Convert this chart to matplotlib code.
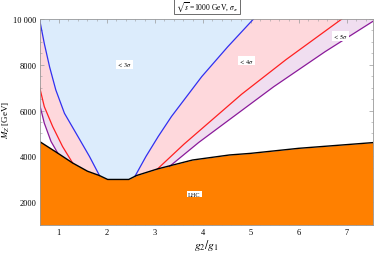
import matplotlib
matplotlib.use("Agg")
import matplotlib.pyplot as plt
from matplotlib.ticker import MultipleLocator, FixedLocator

plt.rcParams['font.family'] = ['Liberation Serif', 'DejaVu Serif']
plt.rcParams['mathtext.fontset'] = 'stix'

# LHC exclusion boundary
lhc_x = [0.6, 0.98, 1.29, 1.6, 1.85, 2.02, 2.46, 2.62, 3.06, 3.79, 4.56, 5.0, 6.0, 7.55]
lhc_y = [4650, 4140, 3710, 3350, 3160, 2990, 2990, 3160, 3450, 3840, 4060, 4130, 4350, 4600]

# 3 sigma contour
s3_left_x = [0.6, 0.70, 0.81, 0.94, 1.12, 1.40, 1.64, 1.85]
s3_left_y = [10000, 8930, 7910, 6900, 5880, 4870, 4000, 3160]
s3_right_x = [2.59, 2.82, 3.075, 3.35, 3.98, 4.52, 5.06]
s3_right_y = [3130, 4000, 4870, 5740, 7480, 8780, 10000]

# 4 sigma contour
s4_left_x = [0.6, 0.70, 0.875, 1.08, 1.29]
s4_left_y = [7040, 6170, 5300, 4430, 3710]
s4_right_x = [3.06, 3.61, 4.81, 5.74, 6.90]
s4_right_y = [3450, 4530, 6710, 8230, 10000]

# 5 sigma contour
s5_left_x = [0.6, 0.70, 0.84, 0.98]
s5_left_y = [6290, 5450, 4650, 4140]
s5_right_x = [3.31, 3.92, 5.48, 6.55, 7.55]
s5_right_y = [3560, 4610, 7040, 8570, 9900]

xmin, xmax, ymin, ymax = 0.6, 7.55, 1000, 10000

fig = plt.figure(figsize=(3.74, 2.55), dpi=100)
ax = fig.add_axes([39.5/374, 1-226/255, (373-39.5)/374, (226-20)/255])

c_blue_fill = '#dcecfc'
c_pink_fill = '#fed8dc'
c_lav_fill = '#f0def0'

# 5 sigma region (bottom closed below the LHC area, hidden by orange)
px = s5_left_x + [s5_left_x[-1], s5_right_x[0]] + s5_right_x + [xmax, xmin]
py = s5_left_y + [ymin, ymin] + s5_right_y + [ymax, ymax]
ax.fill(px, py, color=c_lav_fill, lw=0)
# 4 sigma region
px = s4_left_x + [s4_left_x[-1], s4_right_x[0]] + s4_right_x + [xmin]
py = s4_left_y + [ymin, ymin] + s4_right_y + [ymax]
ax.fill(px, py, color=c_pink_fill, lw=0)
# 3 sigma region
px = s3_left_x + [s3_left_x[-1], s3_right_x[0]] + s3_right_x
py = s3_left_y + [ymin, ymin] + s3_right_y
ax.fill(px, py, color=c_blue_fill, lw=0)

# LHC
ax.fill_between(lhc_x, lhc_y, ymin, color='#ff8000', lw=0, zorder=3)
ax.plot(lhc_x, lhc_y, color='black', lw=1.0, zorder=5)

for xs, ys, c in [(s3_left_x, s3_left_y, '#3030f0'), (s3_right_x, s3_right_y, '#3030f0'),
                  (s4_left_x, s4_left_y, '#ff2020'), (s4_right_x, s4_right_y, '#ff2020'),
                  (s5_left_x, s5_left_y, '#8a1a9a'), (s5_right_x, s5_right_y, '#8a1a9a')]:
    ax.plot(xs, ys, color=c, lw=0.9, zorder=4)

ax.set_xlim(xmin, xmax)
ax.set_ylim(ymin, ymax)

bb = dict(facecolor='white', edgecolor='none', pad=0.6)
ax.text(2.37, 8000, r'$<3\,\sigma$', fontsize=4.5, ha='center', va='center', bbox=bb, zorder=6)
ax.text(4.92, 8170, r'$<4\,\sigma$', fontsize=4.5, ha='center', va='center', bbox=bb, zorder=6)
ax.text(6.87, 9260, r'$<5\,\sigma$', fontsize=4.5, ha='center', va='center', bbox=bb, zorder=6)
ax.text(3.83, 2350, 'LHC', fontsize=4.5, ha='center', va='center', bbox=bb, zorder=6)

ax.xaxis.set_major_locator(FixedLocator([1, 2, 3, 4, 5, 6, 7]))
ax.xaxis.set_minor_locator(MultipleLocator(0.2))
ax.yaxis.set_major_locator(FixedLocator([2000, 4000, 6000, 8000, 10000]))
ax.yaxis.set_minor_locator(MultipleLocator(500))
ax.set_yticklabels(['2000', '4000', '6000', '8000', '10 000'])
ax.tick_params(which='both', direction='in', top=True, right=True, color='#999999',
               labelsize=6, pad=2)
ax.tick_params(which='major', length=3, width=0.5)
ax.tick_params(which='minor', length=1.5, width=0.4)
for s in ax.spines.values():
    s.set_color('#999999')
    s.set_linewidth(0.6)
    s.set_zorder(10)

ax.set_xlabel(r'$g_2/g_1$', fontsize=8.5, labelpad=1)
ax.set_ylabel(r"$M_{Z'}$[GeV]", fontsize=6.5)
ax.yaxis.set_label_coords(-0.082, 0.515)

fig.text(207/374, 1-7/255, r'$\sqrt{s}$ =1000 GeV, $\sigma_\pi$', fontsize=5.5,
         ha='center', va='center',
         bbox=dict(facecolor='white', edgecolor='#555555', lw=0.6, pad=1.2))

fig.savefig('out.png', dpi=100)
